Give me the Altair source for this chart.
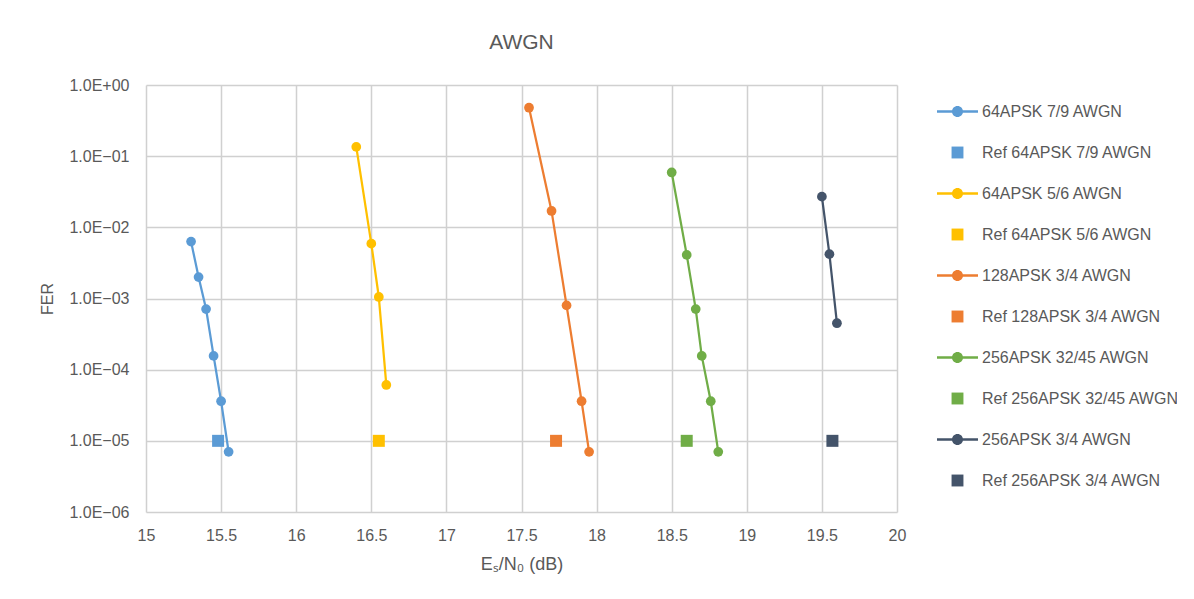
import altair as alt
import pandas as pd

# ---- data ----
series_names = [
    "64APSK 7/9 AWGN", "Ref 64APSK 7/9 AWGN",
    "64APSK 5/6 AWGN", "Ref 64APSK 5/6 AWGN",
    "128APSK 3/4 AWGN", "Ref 128APSK 3/4 AWGN",
    "256APSK 32/45 AWGN", "Ref 256APSK 32/45 AWGN",
    "256APSK 3/4 AWGN", "Ref 256APSK 3/4 AWGN",
]
series_colors = [
    "#5B9BD5", "#5B9BD5",
    "#FFC000", "#FFC000",
    "#ED7D31", "#ED7D31",
    "#70AD47", "#70AD47",
    "#44546A", "#44546A",
]

esn0_64apsk_79 = [15.3, 15.35, 15.4, 15.45, 15.5, 15.55]
fer_64apsk_79 = [6.3e-3, 2.0e-3, 7.1e-4, 1.56e-4, 3.6e-5, 7.0e-6]

esn0_64apsk_56 = [16.4, 16.5, 16.55, 16.6]
fer_64apsk_56 = [0.135, 5.9e-3, 1.05e-3, 6.1e-5]

esn0_128apsk_34 = [17.55, 17.7, 17.8, 17.9, 17.95]
fer_128apsk_34 = [0.48, 0.017, 8.0e-4, 3.6e-5, 7.0e-6]

esn0_256apsk_3245 = [18.5, 18.6, 18.66, 18.7, 18.76, 18.81]
fer_256apsk_3245 = [0.059, 4.1e-3, 7.1e-4, 1.56e-4, 3.6e-5, 7.0e-6]

esn0_256apsk_34 = [19.5, 19.55, 19.6]
fer_256apsk_34 = [0.027, 4.2e-3, 4.5e-4]

ref_names = ["Ref 64APSK 7/9 AWGN", "Ref 64APSK 5/6 AWGN", "Ref 128APSK 3/4 AWGN",
             "Ref 256APSK 32/45 AWGN", "Ref 256APSK 3/4 AWGN"]
ref_esn0 = [15.48, 16.55, 17.73, 18.6, 19.57]
ref_fer = [1e-5, 1e-5, 1e-5, 1e-5, 1e-5]

x_ticks = [15, 15.5, 16, 16.5, 17, 17.5, 18, 18.5, 19, 19.5, 20]
y_ticks = [1e-6, 1e-5, 1e-4, 1e-3, 1e-2, 1e-1, 1]

# ---- tables ----
curves = [
    ("64APSK 7/9 AWGN", esn0_64apsk_79, fer_64apsk_79),
    ("64APSK 5/6 AWGN", esn0_64apsk_56, fer_64apsk_56),
    ("128APSK 3/4 AWGN", esn0_128apsk_34, fer_128apsk_34),
    ("256APSK 32/45 AWGN", esn0_256apsk_3245, fer_256apsk_3245),
    ("256APSK 3/4 AWGN", esn0_256apsk_34, fer_256apsk_34),
]
rows = []
for name, xs, ys in curves:
    for i, (xv, yv) in enumerate(zip(xs, ys)):
        rows.append({"series": name, "esn0": xv, "fer": yv, "idx": i})
curve_df = pd.DataFrame(rows)
ref_df = pd.DataFrame({"series": ref_names, "esn0": ref_esn0, "fer": ref_fer})

TXT = "#595959"
FONT = "Liberation Sans"

color_scale = alt.Scale(domain=series_names, range=series_colors)

# legend symbols: a line with a dot for curves, a square for reference points
line_path = ("M-1,-0.06L1,-0.06L1,0.06L-1,0.06Z "
             "M0.27,0A0.27,0.27,0,1,1,-0.27,0A0.27,0.27,0,1,1,0.27,0Z")
square_path = "M-0.29,-0.29L0.29,-0.29L0.29,0.29L-0.29,0.29Z"
legend_shapes = [line_path, square_path] * 5
shape_scale = alt.Scale(domain=series_names, range=legend_shapes)

x_enc = alt.X(
    "esn0:Q",
    scale=alt.Scale(domain=[15, 20], nice=False, zero=False),
    axis=alt.Axis(values=x_ticks, format="~g", title="Eₛ/N₀ (dB)", labelPadding=15,
                  titlePadding=12, labelFlush=False, titleFontSize=18),
)
y_enc = alt.Y(
    "fer:Q",
    scale=alt.Scale(type="log", domain=[1e-6, 1], nice=False),
    axis=alt.Axis(
        values=y_ticks, title="FER", labelPadding=17, titlePadding=13,
        labelExpr="'1.0E' + (round(log(datum.value)/LN10) >= 0 ? '+' : '\u2212') + '0' + abs(round(log(datum.value)/LN10))",
    ),
)

legend = alt.Legend(
    title=None,
    orient="none",
    legendX=791,
    legendY=6,
    symbolSize=1681,
    symbolStrokeWidth=0,
    symbolOpacity=1,
    labelFontSize=16,
    labelColor=TXT,
    labelFont=FONT,
    labelOffset=4,
    labelLimit=400,
    rowPadding=12,
    columns=1,
)

color_enc = alt.Color("series:N", scale=color_scale, legend=legend)

# legend-only layer (draws no marks; the explicit domains fill the legend)
legend_layer = alt.Chart(ref_df).mark_point(filled=True, opacity=1).encode(
    x=x_enc, y=y_enc,
    color=color_enc,
    shape=alt.Shape("series:N", scale=shape_scale, legend=legend),
).transform_filter("false")

lines = alt.Chart(curve_df).mark_line(strokeWidth=2.25).encode(
    x=x_enc, y=y_enc, color=color_enc, order="idx:Q",
)
points = alt.Chart(curve_df).mark_point(filled=True, shape="circle", size=95, opacity=1).encode(
    x=x_enc, y=y_enc, color=color_enc,
)
refs = alt.Chart(ref_df).mark_point(filled=True, shape="square", size=144, opacity=1).encode(
    x=x_enc, y=y_enc, color=color_enc,
)

chart = (
    alt.layer(legend_layer, lines, points, refs)
    .properties(
        width=751,
        height=427,
        title=alt.TitleParams("AWGN", fontSize=21, color=TXT, font=FONT,
                              fontWeight="normal", offset=24),
        autosize=alt.AutoSizeParams(type="none"),
        padding={"left": 138, "top": 77, "right": 280, "bottom": 75},
    )
    .configure_view(stroke=None)
    .configure_axis(
        grid=True, gridColor="#D0D0D0", gridWidth=1.5, domain=False, ticks=False,
        labelFont=FONT, labelFontSize=16, labelColor=TXT,
        titleFont=FONT, titleFontSize=16, titleColor=TXT, titleFontWeight="normal",
    )
)

chart.save("out.html", embed_options={"renderer": "svg", "actions": False})
